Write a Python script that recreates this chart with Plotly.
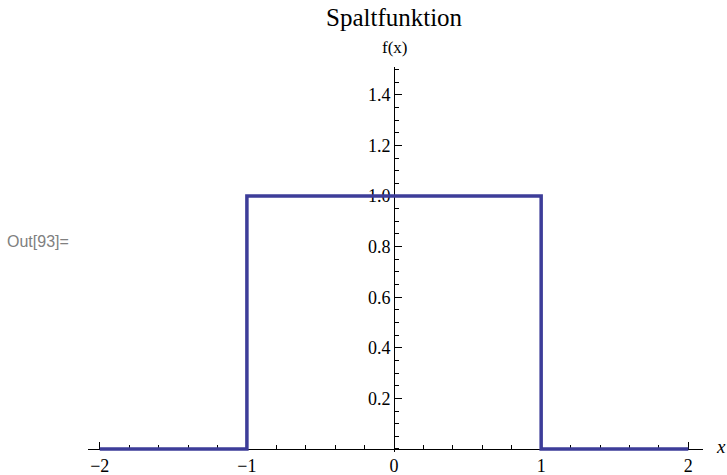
import plotly.graph_objects as go

# Data: rectangular (slit) function
x_vals = [-2, -1, -1, 1, 1, 2]
y_vals = [0, 0, 1, 1, 0, 0]

x_tickvals = [-2, -1, 0, 1, 2]
x_ticktext = ["\u22122", "\u22121", "0", "1", "2"]
y_tickvals = [0.2, 0.4, 0.6, 0.8, 1.0, 1.2, 1.4]
y_ticktext = ["0.2", "0.4", "0.6", "0.8", "1.0", "1.2", "1.4"]

xmin, xmax = -2.08, 2.1
ymin, ymax = -0.012, 1.51

serif = "Liberation Serif, Times New Roman, serif"

fig = go.Figure()
fig.add_trace(go.Scatter(
    x=x_vals, y=y_vals, mode="lines",
    line=dict(color="#3d3d99", width=3.5),
    hoverinfo="skip", showlegend=False,
))

plot_top = 67
plot_h = (449 - plot_top) * (ymax - ymin) / (ymax - 0)
fig.update_layout(
    template="none",
    width=727, height=475,
    margin=dict(l=88, r=24, t=plot_top, b=475 - plot_top - plot_h, pad=0),
    paper_bgcolor="white", plot_bgcolor="white",
    showlegend=False,
    font=dict(family=serif),
)

fig.update_xaxes(
    range=[xmin, xmax], showgrid=False, zeroline=False, automargin=False,
    showline=True, linecolor="black", linewidth=1,
    anchor="free", position=(0 - ymin) / (ymax - ymin),
    tickvals=x_tickvals, ticktext=x_ticktext,
    ticks="inside", ticklen=7, tickcolor="black", tickwidth=1,
    minor=dict(dtick=0.2, tick0=0, ticks="inside", ticklen=4, tickcolor="black", tickwidth=1, showgrid=False),
    tickfont=dict(family=serif, size=18, color="black"),
    layer="below traces",
)
fig.update_yaxes(
    range=[ymin, ymax], showgrid=False, zeroline=False, automargin=False,
    showline=True, linecolor="black", linewidth=1,
    anchor="free", position=(0 - xmin) / (xmax - xmin),
    tickvals=y_tickvals, ticktext=y_ticktext,
    ticks="inside", ticklen=7, tickcolor="black", tickwidth=1,
    minor=dict(dtick=0.05, tick0=0, ticks="inside", ticklen=4, tickcolor="black", tickwidth=1, showgrid=False),
    tickfont=dict(family=serif, size=18, color="black"),
    layer="below traces",
)

fig.add_annotation(
    text="Spaltfunktion", x=0, xref="x", y=ymax, yref="y",
    yanchor="middle", yshift=(67 - 17), showarrow=False,
    font=dict(family=serif, size=25, color="black"),
)
fig.add_annotation(
    text="f(x)", x=0, xref="x", y=ymax, yref="y",
    yanchor="middle", yshift=(67 - 47), showarrow=False,
    font=dict(family=serif, size=17, color="black"),
)
fig.add_annotation(
    text="<i>x</i>", x=xmax, xref="x", y=0, yref="y",
    xanchor="left", yanchor="middle", xshift=11, yshift=2, showarrow=False,
    font=dict(family=serif, size=19, color="black"),
)
fig.add_annotation(
    text="Out[93]=", x=0, xref="paper", y=0.5, yref="paper",
    xanchor="left", yanchor="middle", xshift=-88 + 5, yshift=18,
    showarrow=False, font=dict(family="Liberation Sans, Arial, sans-serif", size=16, color="#808080"),
)

fig.write_html(
    "out.html",
    config={"displayModeBar": False},
    post_script="document.body.style.margin='0';document.body.style.padding='0';",
)
